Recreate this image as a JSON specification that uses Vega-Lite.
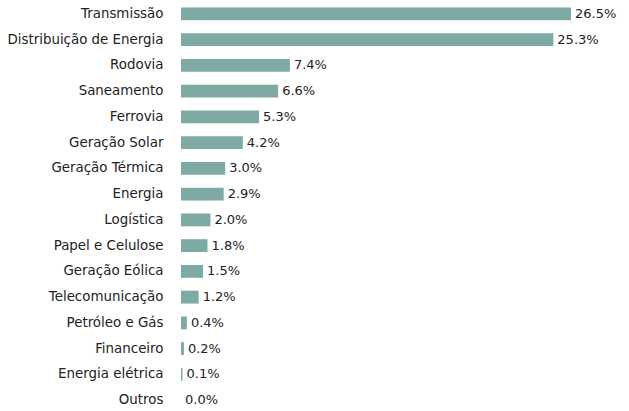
{
  "$schema": "https://vega.github.io/schema/vega-lite/v6.json",
  "autosize": "none",
  "padding": {"left": 181, "top": 1, "right": 58, "bottom": 0},
  "width": 390,
  "height": 412,
  "background": "white",
  "config": {"view": {"stroke": null}, "font": "DejaVu Sans"},
  "data": {"values": [
    {"setor": "Transmissão", "v": 0.265},
    {"setor": "Distribuição de Energia", "v": 0.253},
    {"setor": "Rodovia", "v": 0.074},
    {"setor": "Saneamento", "v": 0.066},
    {"setor": "Ferrovia", "v": 0.053},
    {"setor": "Geração Solar", "v": 0.042},
    {"setor": "Geração Térmica", "v": 0.030},
    {"setor": "Energia", "v": 0.029},
    {"setor": "Logística", "v": 0.020},
    {"setor": "Papel e Celulose", "v": 0.018},
    {"setor": "Geração Eólica", "v": 0.015},
    {"setor": "Telecomunicação", "v": 0.012},
    {"setor": "Petróleo e Gás", "v": 0.004},
    {"setor": "Financeiro", "v": 0.002},
    {"setor": "Energia elétrica", "v": 0.001},
    {"setor": "Outros", "v": 0.0}
  ]},
  "encoding": {
    "y": {"field": "setor", "type": "nominal", "sort": null,
      "scale": {"paddingInner": 0.5, "paddingOuter": 0.25},
      "axis": {"title": null, "domain": false, "ticks": false, "labelFontSize": 13.4, "labelColor": "#222", "labelPadding": 18, "labelFont": "DejaVu Sans"}},
    "x": {"field": "v", "type": "quantitative", "scale": {"domain": [0, 0.265], "nice": false, "zero": true}, "axis": null}
  },
  "layer": [
    {"mark": {"type": "bar", "color": "#7eaaa4"}},
    {"mark": {"type": "text", "align": "left", "baseline": "middle", "dx": 4, "fontSize": 13, "color": "#222", "font": "DejaVu Sans"},
     "encoding": {"text": {"field": "v", "type": "quantitative", "format": ".1%"}}}
  ]
}
